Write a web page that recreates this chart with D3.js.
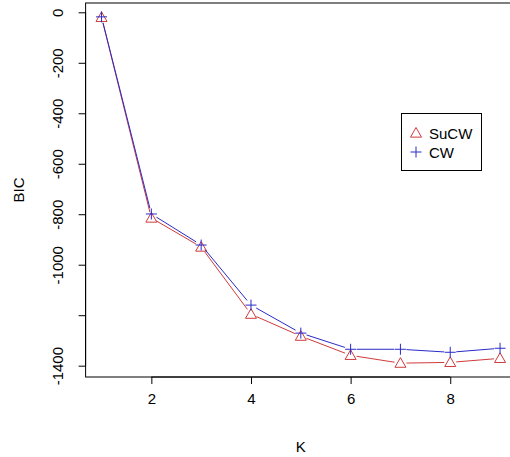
<!DOCTYPE html>
<html>
<head>
<meta charset="utf-8">
<script src="https://cdn.jsdelivr.net/npm/d3@7"></script>
<style>
  body { margin: 0; background: #fff; }
  text { font-family: "Liberation Sans", Arial, sans-serif; fill: #000; }
</style>
</head>
<body>
<svg id="chart" width="510" height="457"></svg>
<script>
// data
var kValues = [1, 2, 3, 4, 5, 6, 7, 8, 9];
var sucwBIC = [-20, -815, -930, -1196, -1283, -1359, -1390, -1387, -1371];
var cwBIC   = [-18, -799, -922, -1160, -1271, -1335, -1335, -1347, -1331];
var xTicks = [2, 4, 6, 8];
var yTicks = [0, -200, -400, -600, -800, -1000, -1200, -1400];
var yTickLabels = ['0', '-200', '-400', '-600', '-800', '-1000', '', '-1400'];
var seriesNames = ['SuCW', 'CW'];

var red = '#cf3b3b', blue = '#2a2ac8';
var fontSize = 15;

var svg = d3.select('#chart');

// plot region (R style: 4% padding on each side of the data range)
var plotL = 85.6, plotR = 516, plotT = 3, plotB = 377;

var xExt = d3.extent(kValues);
var xPad = (xExt[1] - xExt[0]) * 0.04;
var xScale = d3.scaleLinear()
  .domain([xExt[0] - xPad, xExt[1] + xPad])
  .range([plotL, plotR]);

var yExt = d3.extent(sucwBIC.concat(cwBIC));
var yPad = (yExt[1] - yExt[0]) * 0.04;
var yScale = d3.scaleLinear()
  .domain([yExt[0] - yPad, yExt[1] + yPad])
  .range([plotB, plotT]);

// box
svg.append('rect')
  .attr('x', plotL).attr('y', plotT)
  .attr('width', plotR - plotL).attr('height', plotB - plotT)
  .attr('fill', 'none').attr('stroke', '#000').attr('stroke-width', 1);

// x axis
var xAxis = svg.append('g')
  .attr('transform', 'translate(0,' + plotB + ')')
  .call(d3.axisBottom(xScale).tickValues(xTicks).tickSize(7).tickPadding(9).tickSizeOuter(0));
xAxis.select('.domain')
  .attr('d', 'M' + xScale(xTicks[0]) + ',0H' + xScale(xTicks[xTicks.length - 1]));
xAxis.selectAll('text').style('font-size', fontSize + 'px').attr('font-family', null);

// y axis
var yAxis = svg.append('g')
  .attr('transform', 'translate(' + plotL + ',0)')
  .call(d3.axisLeft(yScale).tickValues(yTicks).tickSize(7).tickSizeOuter(0)
    .tickFormat(function (d, i) { return yTickLabels[i]; }));
yAxis.select('.domain')
  .attr('d', 'M0,' + yScale(yTicks[0]) + 'V' + yScale(yTicks[yTicks.length - 1]));
yAxis.selectAll('text')
  .style('font-size', fontSize + 'px')
  .attr('font-family', null)
  .attr('x', null).attr('dy', null)
  .attr('text-anchor', 'middle')
  .attr('transform', 'translate(-23,0) rotate(-90)');
svg.selectAll('.tick line, .domain').attr('stroke', '#000');

// axis titles
svg.append('text')
  .attr('x', (plotL + plotR) / 2).attr('y', 452)
  .attr('text-anchor', 'middle')
  .style('font-size', fontSize + 'px')
  .text('K');
svg.append('text')
  .attr('transform', 'translate(24,' + ((plotT + plotB) / 2) + ') rotate(-90)')
  .attr('text-anchor', 'middle')
  .style('font-size', fontSize + 'px')
  .text('BIC');

// type="b": segments with gaps around the points
function drawSeries(values, color, shape) {
  var pts = kValues.map(function (k, i) { return [xScale(k), yScale(values[i])]; });
  var gap = 6;
  var segs = [];
  for (var i = 0; i < pts.length - 1; i++) {
    var a = pts[i], b = pts[i + 1];
    var dx = b[0] - a[0], dy = b[1] - a[1];
    var len = Math.sqrt(dx * dx + dy * dy);
    if (len <= gap * 2) continue;
    var ux = dx / len, uy = dy / len;
    segs.push([a[0] + ux * gap, a[1] + uy * gap, b[0] - ux * gap, b[1] - uy * gap]);
  }
  var g = svg.append('g');
  g.selectAll('line').data(segs).enter().append('line')
    .attr('x1', function (d) { return d[0]; })
    .attr('y1', function (d) { return d[1]; })
    .attr('x2', function (d) { return d[2]; })
    .attr('y2', function (d) { return d[3]; })
    .attr('stroke', color).attr('stroke-width', 1);
  g.selectAll('path').data(pts).enter().append('path')
    .attr('d', function (d) { return shape(d[0], d[1]); })
    .attr('fill', 'none').attr('stroke', color).attr('stroke-width', 1);
}

function triangle(x, y) {
  var r = 5.5;
  return 'M' + x + ',' + (y - r) + 'L' + (x + r) + ',' + (y + r * 0.75) + 'L' + (x - r) + ',' + (y + r * 0.75) + 'Z';
}
function plus(x, y) {
  var r = 5.5;
  return 'M' + (x - r) + ',' + y + 'H' + (x + r) + 'M' + x + ',' + (y - r) + 'V' + (y + r);
}

drawSeries(sucwBIC, red, triangle);
drawSeries(cwBIC, blue, plus);

// legend
var legend = svg.append('g');
legend.append('rect')
  .attr('x', 401.5).attr('y', 113.5).attr('width', 80).attr('height', 57)
  .attr('fill', '#fff').attr('stroke', '#000');
var legendItems = [
  { name: seriesNames[0], color: red, shape: triangle, y: 133 },
  { name: seriesNames[1], color: blue, shape: plus, y: 152 }
];
legendItems.forEach(function (d) {
  legend.append('path')
    .attr('d', d.shape(416, d.y))
    .attr('fill', 'none').attr('stroke', d.color);
  legend.append('text')
    .attr('x', 429).attr('y', d.y + 5.5)
    .style('font-size', fontSize + 'px')
    .text(d.name);
});
</script>
</body>
</html>
